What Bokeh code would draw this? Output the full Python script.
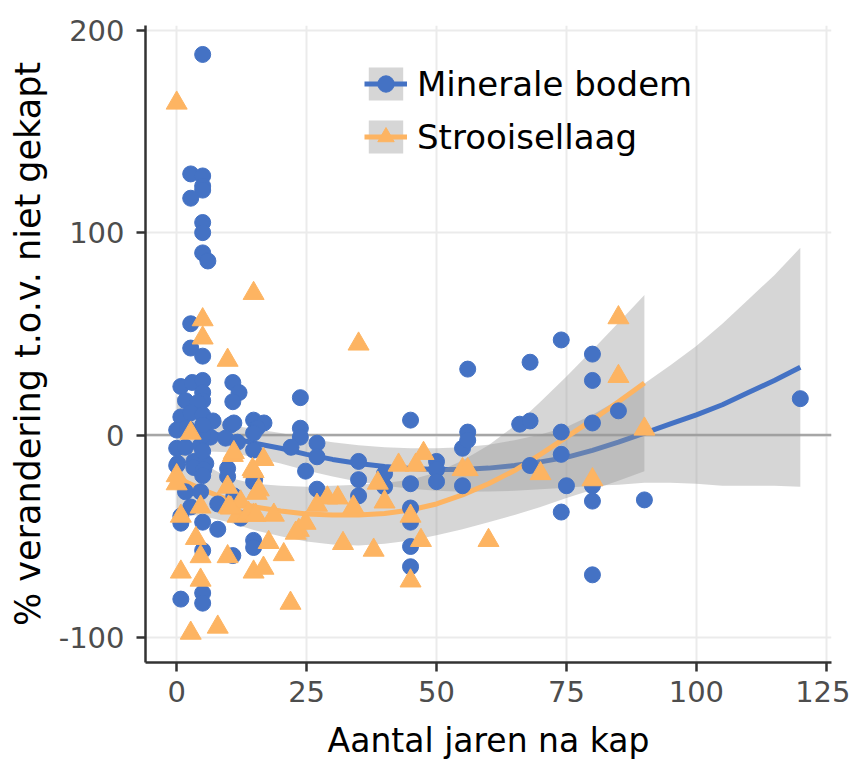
from bokeh.plotting import figure
from bokeh.models import Range1d, FixedTicker, Span, Legend, LegendItem
from bokeh.embed import file_html
from bokeh.resources import INLINE

# ---- data ----
blue_x = [5, 2.7, 5, 5, 5, 2.7, 5, 5, 5, 6, 2.7, 2.7, 5,
          0.8, 3, 5, 5, 5, 1.7, 4, 10.8, 12, 10.8, 23.8,
          0.8, 2.7, 5, 7, 0, 2, 5.2, 10.4, 14.8, 16.8, 11, 15.5, 14.8, 23.8, 23.8,
          0, 1.7, 4.6, 6.5, 9.4, 11.7, 14.8, 22, 27, 27,
          0.2, 3.3, 5.6, 0, 3.3, 5.2, 9.8, 9.8, 15, 24.8, 5, 5, 5, 5,
          1.7, 4.6, 11, 7.9, 2.7, 0.8, 5, 7.9, 12.3, 0.8, 27, 14.8,
          5, 10.8, 14.8, 14.8, 0.8, 5, 5,
          35, 35, 35, 40, 40, 45, 45, 45, 45, 45, 45,
          50, 50, 50, 55, 55, 56, 56, 56,
          66, 68, 68, 74, 74, 74, 68, 75, 80, 80, 90, 74, 80, 80, 80, 80, 85, 120]
blue_y = [188, 129, 128, 123, 121, 117, 105, 100, 90, 86, 55, 43, 39,
          24, 26, 27, 21, 17, 17, 16, 26, 21, 16.5, 18.5,
          9, 11, 10, 7, 2.5, 3.5, 3.5, 5, 7.4, 6, 6, 3.5, 1, 3.4, -1,
          -6.5, -6, -5, -1, -1.5, -3.5, -7.4, -6, -4, -10.7,
          -14, -13, -14, -15, -16, -17, -16.5, -20.5, -22, -17.8, -8, -20, 0, 5,
          -28, -28, -30, -34, -35.5, -40, -43, -46.5, -41, -43.5, -26.7, -23,
          -57, -59.5, -52, -55.5, -81, -78, -83,
          -13, -22, -30, -19, -25.5, 7.4, -24, -36, -43, -55, -65,
          -13, -17, -23, -6.5, -25, 32.6, 1.5, -2.5,
          5.4, 7, 36, 47, 1.5, -9.5, -15, -25, -25, -32.6, -32, -38, -69, 40, 27, 6, 12, 18]

orange_x = [0, 14.8, 5, 5, 9.8, 35, 85, 85, 90, 2.7,
            10.8, 16.7, 0, 14.8, 9.8, 15.8, 4.6, 10, 11.7, 14.8, 18.7, 0.8, 3.7, 17.7,
            20.6, 9.8, 4.6, 14.8, 16.7, 0.8, 4.6, 21.9, 7.9, 2.7, 23.5, 0, 14.6, 12.3,
            13.8, 10.4, 11, 15.4, 15.2, 24.8, 22.9,
            29, 31, 27, 34, 40, 38.7, 32, 37.9, 42.7, 46, 47.5, 45, 45, 47, 60,
            55, 56, 70, 80]
orange_y = [164, 70, 57, 48, 37, 45, 58, 29, 3, 1,
            -10, -12, -24, -18, -25.7, -27, -35.5, -35.5, -40, -39.5, -39.5, -40, -51, -53,
            -59, -60, -60, -67.6, -65.7, -67.6, -71.6, -83, -94.8, -97.8, -47, -20, -17, -33,
            -38.5, -36, -8.6, -28.7, -39.5, -43.5, -48.4,
            -31, -31, -34.6, -35.5, -33, -23.7, -53.5, -56.8, -14.8, -14.8, -9, -40, -72, -52, -52,
            -17, -17, -19, -22]

# fitted trend lines and confidence bands
blue_fit_x = [0, 5, 10, 15, 20, 25, 30, 35, 40, 45, 50, 55, 60, 65, 70, 75, 80,
              85, 90, 95, 100, 105, 110, 115, 120]
blue_fit_y = [4, 2, -1, -4, -6.5, -9.5, -12, -14, -15.5, -16.5, -17, -17, -16.3, -15,
              -13.2, -11, -7.5, -3.5, 1, 5.5, 10, 15, 21, 27, 33.5]
blue_hi = [19, 12, 5, 3, 1, -1.5, -3.5, -5, -6, -6.5, -6.5, -6, -4.8, -2.5, 0.3, 4, 10,
           17.5, 25.5, 34.5, 44, 55, 67, 79, 92.5]
blue_lo = [-11, -8, -8.5, -11, -14, -17.5, -20.5, -23, -25, -26.5, -27.5, -28, -27.8,
           -27.5, -26.7, -26, -25, -24.5, -23.5, -23.5, -24, -25, -25, -25, -25.5]

orange_fit_x = [0, 5, 10, 15, 20, 25, 30, 35, 40, 45, 50, 55, 60, 65, 70, 75, 80, 85, 90]
orange_fit_y = [-21, -27, -32, -35.5, -37.5, -39, -39.5, -39.5, -38.7, -37, -34, -29.5,
                -24, -17.5, -9.5, -1, 7.5, 16.5, 25.7]
orange_hi = [-3, -14, -21, -24, -25, -25.5, -25, -24.5, -23.7, -22, -18.5, -12.5, -5,
             4.5, 16.5, 29, 42, 55.5, 69.2]
orange_lo = [-39, -40, -43, -47, -50, -52.5, -54, -54.5, -53.7, -52, -49.5, -46.5, -43,
             -39.5, -35.5, -31, -27, -22.5, -17.8]

x_ticks = [0, 25, 50, 75, 100, 125]
y_ticks = [-100, 0, 100, 200]
y_tick_labels = {-100: "-100", 0: "0", 100: "100", 200: "200"}

BLUE = "#4472C4"
ORANGE = "#FDB462"
FONT = "DejaVu Sans"

p = figure(width=850, height=767, output_backend="svg", toolbar_location=None,
           x_range=Range1d(-6, 126), y_range=Range1d(-112.3, 202.3),
           min_border_left=145, min_border_right=19, min_border_top=25,
           min_border_bottom=105, background_fill_color="white",
           border_fill_color="white")
p.outline_line_color = None

# grid
for g in (p.xgrid, p.ygrid):
    g.grid_line_color = "#ebebeb"
    g.grid_line_width = 2
p.xgrid.ticker = FixedTicker(ticks=x_ticks)
p.ygrid.ticker = FixedTicker(ticks=y_ticks)

# zero line
p.add_layout(Span(location=0, dimension="width", line_color="#a6a6a6", line_width=2.5,
                  level="underlay"))

# bands and lines
b_band = p.varea(x=blue_fit_x, y1=blue_lo, y2=blue_hi, fill_color="#999999", fill_alpha=0.4)
b_line = p.line(blue_fit_x, blue_fit_y, line_color=BLUE, line_width=5)
o_band = p.varea(x=orange_fit_x, y1=orange_lo, y2=orange_hi, fill_color="#999999", fill_alpha=0.4)
o_line = p.line(orange_fit_x, orange_fit_y, line_color=ORANGE, line_width=5)

b_pts = p.scatter(blue_x, blue_y, marker="circle", size=16, fill_color=BLUE, line_color=BLUE)
o_pts = p.scatter(orange_x, orange_y, marker="triangle", size=21, fill_color=ORANGE,
                  line_color=ORANGE)

# axes
for ax in (p.xaxis, p.yaxis):
    ax.axis_line_color = "#333333"
    ax.axis_line_width = 2.5
    ax.major_tick_line_color = "#333333"
    ax.major_tick_line_width = 2.5
    ax.major_tick_out = 9
    ax.major_tick_in = 0
    ax.minor_tick_line_color = None
    ax.major_label_text_color = "#4d4d4d"
    ax.major_label_text_font = FONT
    ax.major_label_text_font_size = "29px"
    ax.axis_label_text_color = "black"
    ax.axis_label_text_font_style = "normal"
    ax.axis_label_text_font = FONT

p.xaxis.axis_label_text_font_size = "33px"
p.yaxis.axis_label_text_font_size = "35px"
p.xaxis.ticker = FixedTicker(ticks=x_ticks)
p.yaxis.ticker = FixedTicker(ticks=y_ticks)
p.yaxis.major_label_overrides = y_tick_labels
p.xaxis.major_label_standoff = 9
p.yaxis.major_label_standoff = 12

p.xaxis.axis_label = "Aantal jaren na kap"
p.yaxis.axis_label = "% verandering t.o.v. niet gekapt"
p.xaxis.axis_label_standoff = 16
p.yaxis.axis_label_standoff = 8

# legend
legend = Legend(items=[
    LegendItem(label="Minerale bodem", renderers=[b_band, b_line, b_pts]),
    LegendItem(label="Strooisellaag", renderers=[o_band, o_line, o_pts]),
], location=(219, 505))
legend.background_fill_alpha = 0
legend.border_line_color = None
legend.padding = 0
legend.margin = 0
legend.spacing = 12
legend.glyph_width = 43
legend.glyph_height = 41
legend.label_standoff = 10
legend.label_text_font = FONT
legend.label_text_font_size = "34px"
legend.label_text_color = "black"
p.add_layout(legend)

open("out.html", "w").write(file_html(p, INLINE))
